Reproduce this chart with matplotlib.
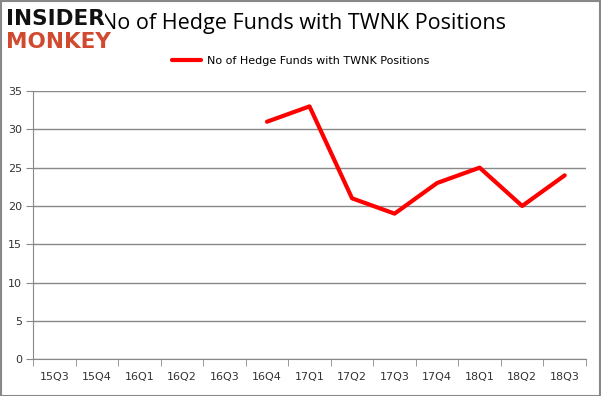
import numpy as np
import matplotlib.pyplot as plt
from matplotlib.patches import Rectangle

quarters = ["15Q3", "15Q4", "16Q1", "16Q2", "16Q3", "16Q4", "17Q1",
            "17Q2", "17Q3", "17Q4", "18Q1", "18Q2", "18Q3"]
hedge_funds = [np.nan, np.nan, np.nan, np.nan, np.nan, 31, 33,
               21, 19, 23, 25, 20, 24]
series_label = "No of Hedge Funds with TWNK Positions"
y_ticks = [0, 5, 10, 15, 20, 25, 30, 35]

fig = plt.figure(figsize=(6.01, 3.96), dpi=100)
ax = fig.add_axes([0.055, 0.093, 0.92, 0.677])

x = np.arange(len(quarters))
ax.plot(x, hedge_funds, color="#ff0000", linewidth=3, solid_capstyle="round",
        label=series_label)

# axes styling
ax.set_xlim(-0.5, len(quarters) - 0.5)
ax.set_ylim(0, 35)
ax.set_yticks(y_ticks)
ax.set_xticks(x)
ax.set_xticklabels(quarters)
ax.set_xticks(np.arange(-0.5, len(quarters)), minor=True)
ax.tick_params(axis="x", which="major", length=0, pad=9, labelsize=8, labelcolor="#333333")
ax.tick_params(axis="x", which="minor", length=5, color="#888888", direction="out")
ax.tick_params(axis="y", length=5, color="#888888", labelsize=8, labelcolor="#333333", pad=3)
ax.yaxis.grid(True, color="#888888", linewidth=1)
ax.set_axisbelow(True)
for side in ["top", "right"]:
    ax.spines[side].set_visible(False)
ax.spines["left"].set_color("#888888")
ax.spines["bottom"].set_color("#888888")

fig.text(0.505, 0.94, series_label, ha="center", va="center", fontsize=15.5,
         family="Open Sans", zorder=1)
fig.legend(loc="center", bbox_to_anchor=(0.5, 0.845), frameon=False, fontsize=8,
           handlelength=2.6, handletextpad=0.5)

# logo, drawn over the title like the original
fig.text(0.01, 0.952, "INSIDER", ha="left", va="center", fontsize=15.5,
         fontweight="heavy", color="#111111", zorder=5,
         bbox=dict(facecolor="white", edgecolor="none", pad=0.5))
fig.text(0.01, 0.895, "MONKEY", ha="left", va="center", fontsize=15.5,
         fontweight="heavy", color="#d04a30", zorder=5)

# figure border
fig.patches.append(Rectangle((0.001, 0.001), 0.997, 0.996, transform=fig.transFigure,
                             fill=False, edgecolor="#888888", linewidth=1.5))

fig.savefig("out.png", dpi=100)
